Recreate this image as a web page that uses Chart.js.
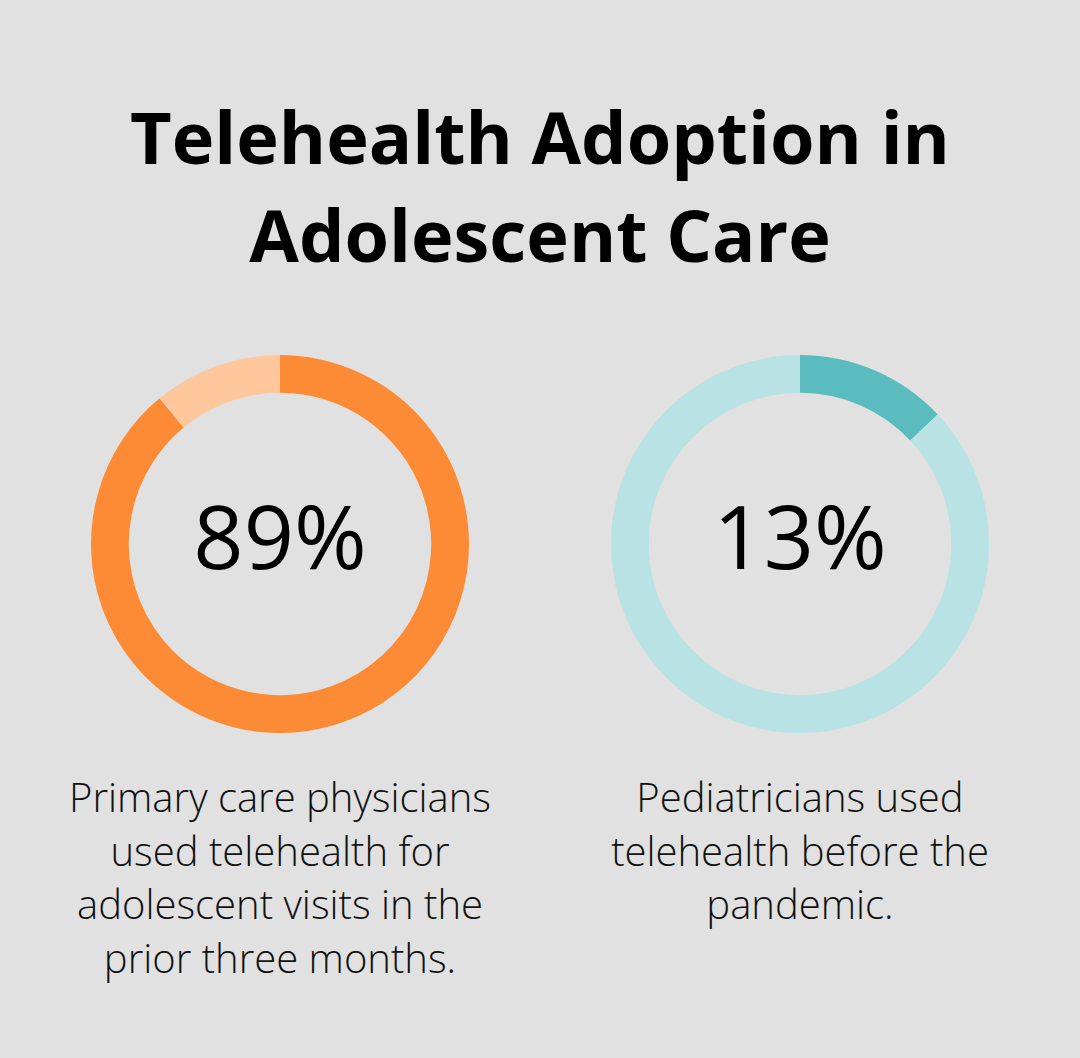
<!DOCTYPE html>
<html>
<head>
<meta charset="utf-8">
<script src="https://cdn.jsdelivr.net/npm/chart.js@4"></script>
<style>
  body {
    margin: 0;
    width: 1080px;
    height: 1058px;
    background: #e0e1e0;
    font-family: "Open Sans", sans-serif;
    position: relative;
    overflow: hidden;
  }
  h1 {
    position: absolute;
    top: 87px;
    left: 0;
    width: 1080px;
    margin: 0;
    text-align: center;
    font-size: 72px;
    font-weight: 700;
    line-height: 98px;
    color: #000;
  }
  .ring {
    position: absolute;
    top: 355px;
    width: 378px;
    height: 378px;
  }
  .desc {
    position: absolute;
    top: 770px;
    width: 500px;
    text-align: center;
    font-size: 40px;
    font-weight: 300;
    line-height: 53.5px;
    color: #111;
  }
</style>
</head>
<body>
<h1>Telehealth Adoption in<br>Adolescent Care</h1>

<div class="ring" style="left:91px"><canvas id="c0" width="378" height="378"></canvas></div>
<div class="ring" style="left:611px"><canvas id="c1" width="378" height="378"></canvas></div>

<div class="desc" style="left:30px" id="d0"></div>
<div class="desc" style="left:550px" id="d1"></div>

<script>
const percents = [89, 13];
const labels = [
  "Primary care physicians used telehealth for adolescent visits in the prior three months.",
  "Pediatricians used telehealth before the pandemic.",
];
const mainColors = ["#fd8b35", "#5bbcbf"];
const restColors = ["#fec89c", "#b8e2e3"];

// wrap lines the way the picture does
const descLines = [
  ["Primary care physicians", "used telehealth for", "adolescent visits in the", "prior three months."],
  ["Pediatricians used", "telehealth before the", "pandemic."],
];

const centerText = {
  id: "centerText",
  afterDraw(chart, args, opts) {
    const { ctx, chartArea } = chart;
    const x = (chartArea.left + chartArea.right) / 2;
    const y = (chartArea.top + chartArea.bottom) / 2;
    ctx.save();
    ctx.font = '400 88px "Open Sans"';
    ctx.fillStyle = "#000";
    ctx.textAlign = "center";
    ctx.textBaseline = "middle";
    ctx.fillText(opts.text, x, y);
    ctx.restore();
  },
};

percents.forEach((p, i) => {
  new Chart(document.getElementById("c" + i), {
    type: "doughnut",
    data: {
      labels: ["Yes", "No"],
      datasets: [
        {
          label: labels[i],
          data: [p, 100 - p],
          backgroundColor: [mainColors[i], restColors[i]],
          borderWidth: 0,
        },
      ],
    },
    options: {
      responsive: false,
      animation: false,
      cutout: "80%",
      layout: { padding: 0 },
      plugins: {
        legend: { display: false },
        tooltip: { enabled: false },
        centerText: { text: p + "%" },
      },
    },
    plugins: [centerText],
  });
  document.getElementById("d" + i).innerHTML = descLines[i].join("<br>");
});
</script>
</body>
</html>
